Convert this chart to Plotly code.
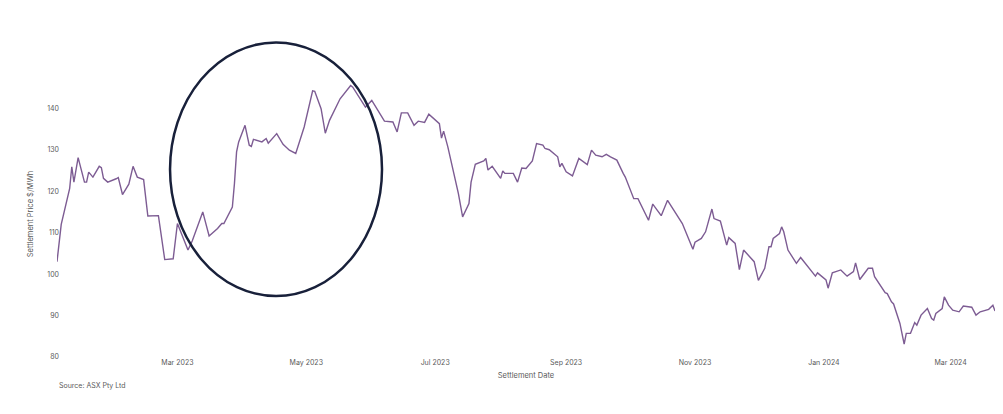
import plotly.graph_objects as go

dates = [
    "2023-01-03", "2023-01-05", "2023-01-09", "2023-01-10", "2023-01-11", "2023-01-13",
    "2023-01-16", "2023-01-17", "2023-01-18", "2023-01-20", "2023-01-23", "2023-01-24",
    "2023-01-25", "2023-01-27", "2023-01-31", "2023-02-01", "2023-02-03", "2023-02-06",
    "2023-02-08", "2023-02-10", "2023-02-13", "2023-02-15", "2023-02-20", "2023-02-23",
    "2023-02-27", "2023-03-01", "2023-03-06", "2023-03-08", "2023-03-13", "2023-03-16",
    "2023-03-20", "2023-03-22", "2023-03-23", "2023-03-27", "2023-03-28", "2023-03-29",
    "2023-03-30", "2023-04-02", "2023-04-04", "2023-04-05", "2023-04-06", "2023-04-10",
    "2023-04-12", "2023-04-13", "2023-04-17", "2023-04-20", "2023-04-23", "2023-04-26",
    "2023-04-30", "2023-05-04", "2023-05-05", "2023-05-08", "2023-05-10", "2023-05-12",
    "2023-05-17", "2023-05-19", "2023-05-22", "2023-05-23", "2023-05-24", "2023-05-29",
    "2023-06-01", "2023-06-03", "2023-06-07", "2023-06-11", "2023-06-13", "2023-06-15",
    "2023-06-18", "2023-06-21", "2023-06-23", "2023-06-26", "2023-06-28", "2023-07-03",
    "2023-07-04", "2023-07-05", "2023-07-07", "2023-07-12", "2023-07-14", "2023-07-17",
    "2023-07-18", "2023-07-20", "2023-07-24", "2023-07-25", "2023-07-26", "2023-07-28",
    "2023-08-01", "2023-08-02", "2023-08-03", "2023-08-07", "2023-08-09", "2023-08-11",
    "2023-08-13", "2023-08-16", "2023-08-18", "2023-08-21", "2023-08-22", "2023-08-24",
    "2023-08-28", "2023-08-29", "2023-08-30", "2023-09-01", "2023-09-04", "2023-09-07",
    "2023-09-11", "2023-09-13", "2023-09-15", "2023-09-18", "2023-09-20", "2023-09-22",
    "2023-09-25", "2023-09-28", "2023-09-29", "2023-10-03", "2023-10-05", "2023-10-10",
    "2023-10-12", "2023-10-16", "2023-10-19", "2023-10-26", "2023-10-31", "2023-11-01",
    "2023-11-04", "2023-11-06", "2023-11-09", "2023-11-10", "2023-11-13", "2023-11-16",
    "2023-11-17", "2023-11-20", "2023-11-22", "2023-11-24", "2023-11-27", "2023-11-29",
    "2023-12-01", "2023-12-04", "2023-12-06", "2023-12-07", "2023-12-08", "2023-12-11",
    "2023-12-12", "2023-12-13", "2023-12-15", "2023-12-19", "2023-12-21", "2023-12-23",
    "2023-12-26", "2023-12-28", "2023-12-29", "2024-01-02", "2024-01-03", "2024-01-05",
    "2024-01-09", "2024-01-12", "2024-01-15", "2024-01-16", "2024-01-18", "2024-01-22",
    "2024-01-24", "2024-01-25", "2024-01-30", "2024-01-31", "2024-02-02", "2024-02-03",
    "2024-02-06", "2024-02-08", "2024-02-09", "2024-02-11", "2024-02-13", "2024-02-14",
    "2024-02-16", "2024-02-19", "2024-02-21", "2024-02-22", "2024-02-23", "2024-02-26",
    "2024-02-27", "2024-02-29", "2024-03-02", "2024-03-05", "2024-03-07", "2024-03-11",
    "2024-03-13", "2024-03-15", "2024-03-19", "2024-03-21", "2024-03-22",
]

prices = [
    103.0, 112.0, 120.7, 125.9, 122.2, 128.1,
    122.2, 122.2, 124.6, 123.4, 126.0, 125.7,
    123.1, 122.2, 123.0, 123.3, 119.2, 121.7,
    126.0, 123.4, 122.8, 114.0, 114.1, 103.5,
    103.7, 112.2, 105.8, 108.0, 115.0, 109.2,
    111.0, 112.2, 112.2, 116.2, 121.9, 129.5,
    131.9, 135.9, 131.1, 130.8, 132.5, 131.9,
    132.7, 131.6, 133.9, 131.3, 129.9, 129.1,
    135.5, 144.2, 144.1, 139.9, 134.0, 137.1,
    142.3, 143.7, 145.5, 145.1, 144.3, 140.3,
    141.9, 140.2, 136.9, 136.7, 134.3, 138.9,
    138.9, 135.9, 136.9, 136.6, 138.6, 136.3,
    132.8, 134.5, 130.7, 119.4, 113.8, 117.0,
    122.2, 126.5, 127.3, 127.9, 125.1, 126.0,
    123.1, 124.9, 124.3, 124.3, 122.2, 125.6,
    125.5, 127.3, 131.5, 131.1, 130.3, 130.0,
    128.3, 125.9, 126.7, 124.7, 123.7, 127.9,
    126.4, 129.9, 128.7, 128.3, 128.9, 128.3,
    127.5, 124.3, 123.4, 118.2, 118.2, 113.0,
    116.9, 114.1, 117.8, 112.2, 106.0, 107.7,
    108.6, 110.2, 115.7, 113.4, 112.8, 107.0,
    108.8, 107.4, 101.1, 105.8, 104.0, 103.0,
    98.5, 101.4, 106.6, 106.6, 108.6, 109.8,
    111.4, 110.2, 105.8, 102.6, 104.0, 102.7,
    101.0, 99.5, 100.3, 98.6, 96.6, 100.3,
    101.0, 99.5, 100.6, 102.7, 98.7, 101.4,
    101.4, 99.4, 95.5, 95.3, 93.3, 92.8,
    88.1, 83.1, 85.7, 85.7, 88.3, 87.7,
    90.1, 91.7, 89.3, 88.9, 90.5, 91.7,
    94.5, 92.5, 91.3, 90.9, 92.3, 92.0,
    90.1, 90.9, 91.5, 92.5, 91.1,
]

x_title = "Settlement Date"
y_title = "Settlement Price $/MWh"
source_text = "Source: ASX Pty Ltd"

FONT = "Inter, Roboto, sans-serif"
GREY = "#5a5a5a"

fig = go.Figure()
fig.add_trace(go.Scatter(
    x=dates, y=prices, mode="lines",
    line=dict(color="#7d5c93", width=1.4),
    hoverinfo="x+y", showlegend=False,
))

fig.update_layout(
    width=1003, height=414,
    margin=dict(l=49, r=16, t=63, b=65),
    paper_bgcolor="white", plot_bgcolor="white",
    font=dict(family=FONT, size=7, color=GREY),
    xaxis=dict(
        type="date", automargin=False,
        range=[dates[0], dates[-1]],
        tick0="2023-03-01", dtick="M2", tickformat="%b %Y",
        showgrid=False, zeroline=False, showline=False, ticks="",
        tickfont=dict(size=7, color=GREY),
        title=dict(text=x_title, font=dict(size=7.5, color=GREY), standoff=6),
    ),
    yaxis=dict(
        automargin=False,
        range=[80, 149],
        tickvals=[80, 90, 100, 110, 120, 130, 140],
        showgrid=False, zeroline=False, showline=False, ticks="",
        ticklabelstandoff=-3,
        tickfont=dict(size=7, color=GREY),
        title=dict(text=y_title, font=dict(size=7.5, color=GREY), standoff=12),
    ),
    shapes=[dict(
        type="circle", xref="paper", yref="paper",
        x0=0.1205, x1=0.3465, y0=0.213, y1=1.10,
        line=dict(color="#18203a", width=2.5),
        layer="above",
    )],
    annotations=[dict(
        text=source_text, xref="paper", yref="paper",
        x=0.0, y=-0.098, xanchor="left", yanchor="middle",
        showarrow=False, font=dict(size=7, color=GREY),
    )],
)

fig.write_html("out.html")
